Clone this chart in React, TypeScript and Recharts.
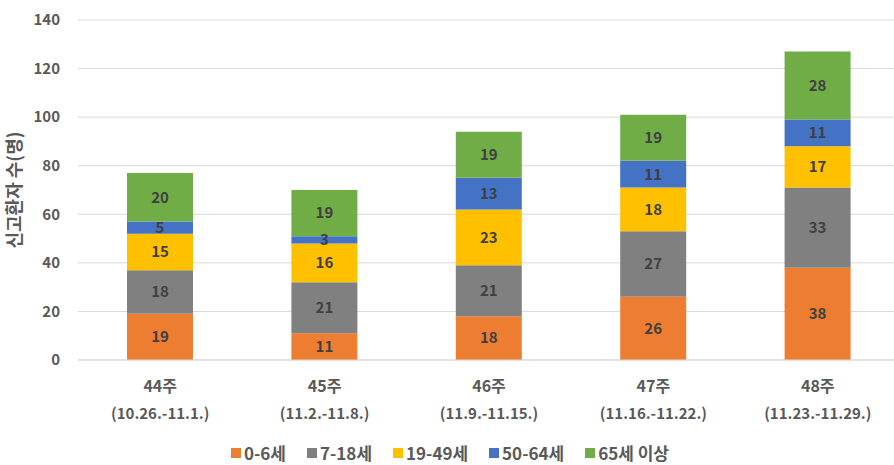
import React from 'react';
import { BarChart, Bar, XAxis, YAxis, CartesianGrid, Legend, LabelList } from 'recharts';

const weeks = ['44주', '45주', '46주', '47주', '48주'];
const periods = ['(10.26.-11.1.)', '(11.2.-11.8.)', '(11.9.-11.15.)', '(11.16.-11.22.)', '(11.23.-11.29.)'];
const age0to6 = [19, 11, 18, 26, 38];
const age7to18 = [18, 21, 21, 27, 33];
const age19to49 = [15, 16, 23, 18, 17];
const age50to64 = [5, 3, 13, 11, 11];
const age65plus = [20, 19, 19, 19, 28];
const yTicks = [0, 20, 40, 60, 80, 100, 120, 140];

const seriesNames = ['0-6세', '7-18세', '19-49세', '50-64세', '65세 이상'];
const seriesColors = ['#ED7D31', '#808080', '#FFC000', '#4472C4', '#70AD47'];

const data = weeks.map((w, i) => ({
  week: w,
  period: periods[i],
  s0: age0to6[i],
  s1: age7to18[i],
  s2: age19to49[i],
  s3: age50to64[i],
  s4: age65plus[i],
}));

const FONT = '"Noto Sans CJK KR", "Noto Sans", sans-serif';
const TEXT = '#595959';

const XTick = (props: any) => {
  const { x, y, payload } = props;
  const idx = weeks.indexOf(payload.value);
  return (
    <g>
      <text x={x} y={y} dy={24} textAnchor="middle" fill={TEXT} fontFamily={FONT} fontWeight="bold" fontSize={16}>
        {payload.value}
      </text>
      <text x={x} y={y} dy={51} textAnchor="middle" fill={TEXT} fontFamily={FONT} fontWeight="bold" fontSize={15}>
        {periods[idx]}
      </text>
    </g>
  );
};

const YTitle = (props: any) => {
  const { viewBox } = props;
  const cx = 13;
  const cy = viewBox.y + viewBox.height / 2;
  return (
    <text x={cx} y={cy} transform={`rotate(-90 ${cx} ${cy})`} textAnchor="middle" dominantBaseline="central" fill={TEXT} fontFamily={FONT} fontWeight="bold" fontSize={18}>
      신고환자 수(명)
    </text>
  );
};

const LegendContent = () => (
  <div style={{ display: 'flex', justifyContent: 'center', alignItems: 'center', fontFamily: FONT, fontWeight: 'bold', fontSize: 17, color: TEXT }}>
    {seriesNames.map((name, k) => (
      <div key={name} style={{ display: 'flex', alignItems: 'center', marginRight: k < seriesNames.length - 1 ? 21 : 0 }}>
        <span style={{ display: 'inline-block', width: 10, height: 10, background: seriesColors[k], marginRight: 3 }} />
        <span>{name}</span>
      </div>
    ))}
  </div>
);

export default function App() {
  return (
    <div style={{ position: 'absolute', left: 0, top: 0, width: 900, height: 465, background: '#fff' }}>
      <BarChart width={900} height={465} data={data} margin={{ top: 20, right: 0, bottom: 0, left: 0 }}>
        <CartesianGrid vertical={false} stroke="#d9d9d9" />
        <XAxis dataKey="week" tick={<XTick />} tickLine={false} axisLine={{ stroke: '#d9d9d9' }} interval={0} height={80} />
        <YAxis
          domain={[0, 140]}
          ticks={yTicks}
          width={78}
          tickLine={false}
          axisLine={false}
          tickSize={10}
          tickMargin={8}
          tick={{ fill: TEXT, fontFamily: FONT, fontWeight: 'bold', fontSize: 15 }}
          label={<YTitle />}
        />
        <Legend verticalAlign="bottom" content={<LegendContent />} />
        {seriesNames.map((name, k) => (
          <Bar key={name} dataKey={`s${k}`} name={name} stackId="a" fill={seriesColors[k]} barSize={66} isAnimationActive={false}>
            <LabelList dataKey={`s${k}`} position="center" fill="#404040" fontFamily={FONT} fontWeight="bold" fontSize={15} />
          </Bar>
        ))}
      </BarChart>
    </div>
  );
}
